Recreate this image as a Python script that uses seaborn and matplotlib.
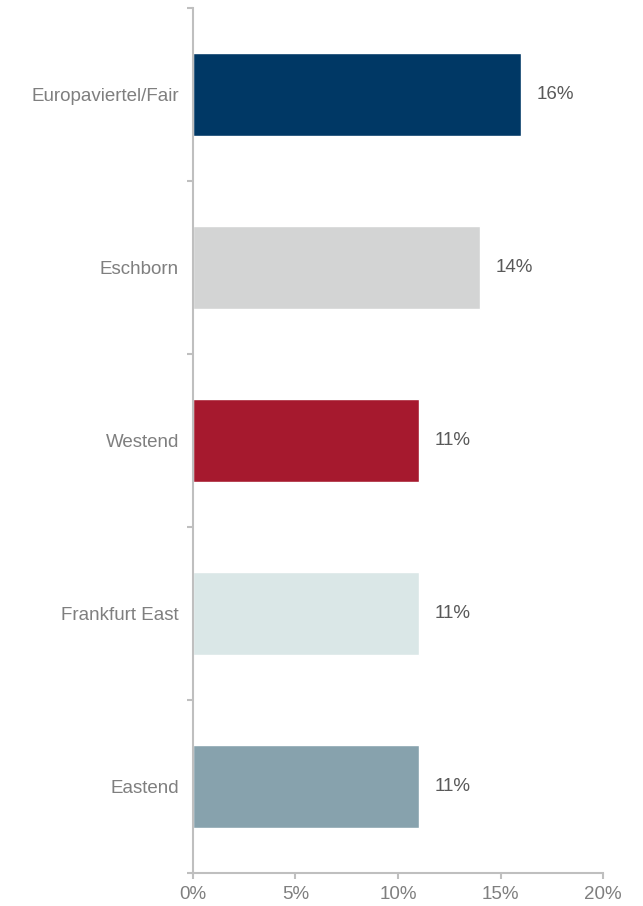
import numpy as np
import pandas as pd
import matplotlib
matplotlib.use("Agg")
import matplotlib.pyplot as plt
import seaborn as sns

# --- data ---
districts = ["Europaviertel/Fair", "Eschborn", "Westend", "Frankfurt East", "Eastend"]
shares = [16, 14, 11, 11, 11]
bar_colors = ["#003865", "#D3D4D4", "#A6192E", "#DAE7E7", "#87A2AD"]
x_ticks = [0, 5, 10, 15, 20]

df = pd.DataFrame({"district": districts, "share": shares})

sns.set_theme(style="white")
plt.rcParams["font.family"] = ["Liberation Sans", "DejaVu Sans"]

grey_txt = "#7F7F7F"
axis_col = "#BFBFBF"
fs = 13.5

fig = plt.figure(figsize=(6.43, 9.06), dpi=100)
ax = fig.add_axes([0.300, 0.0364, 0.638, 0.9548])

sns.barplot(data=df, x="share", y="district", hue="district", palette=bar_colors,
            order=districts, hue_order=districts, width=0.48, legend=False,
            saturation=1, ax=ax)

for i, v in enumerate(shares):
    ax.annotate(f"{v}%", xy=(v, i), xytext=(11.5, 0), textcoords="offset points",
                ha="left", va="center", fontsize=fs, color="#595959")

ax.set_xlim(0, 20)
ax.set_ylim(4.5, -0.5)
ax.set_xticks(x_ticks)
ax.set_xticklabels([f"{t}%" for t in x_ticks])
ax.set_yticks(range(len(districts)))
ax.set_yticklabels(districts)
ax.set_yticks(np.arange(-0.5, len(districts), 1.0), minor=True)
ax.set_xlabel("")
ax.set_ylabel("")

for s in ["top", "right"]:
    ax.spines[s].set_visible(False)
for s in ["left", "bottom"]:
    ax.spines[s].set_color(axis_col)
    ax.spines[s].set_linewidth(1.5)

ax.tick_params(axis="y", which="major", length=0, pad=10, labelsize=fs, labelcolor=grey_txt)
ax.tick_params(axis="y", which="minor", left=True, length=4, width=1.5, color=axis_col)
ax.tick_params(axis="x", which="major", bottom=True, length=4, width=1.5, color=axis_col,
               pad=5, labelsize=fs, labelcolor=grey_txt)
ax.grid(False)

fig.savefig("out.png", dpi=100)
